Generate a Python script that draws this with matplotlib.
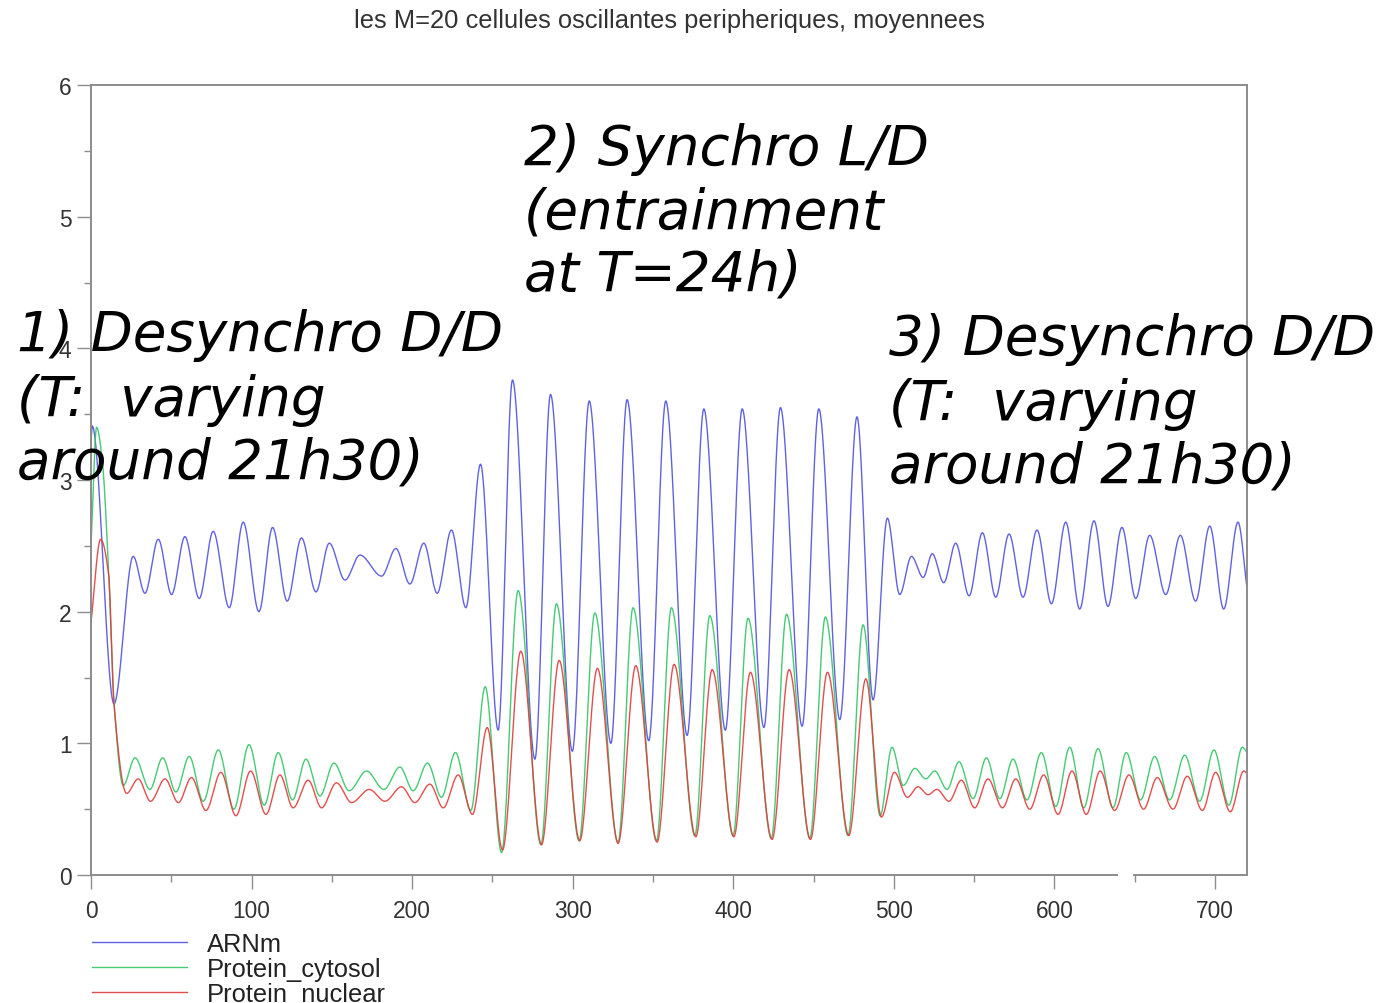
import numpy as np
import matplotlib
matplotlib.use("Agg")
import matplotlib.pyplot as plt
from matplotlib.ticker import MultipleLocator

plt.rcParams["font.family"] = ["Liberation Sans", "DejaVu Sans"]

# Turning points (time in h, mean level) of the averaged peripheral oscillators
arnm_t = [0, 0.8, 14.3, 26.3, 33.6, 41.9, 50.2, 58.5, 67.4, 76.1, 86.1, 94.8, 104.6,
          113.1, 122.2, 131.1, 140.1, 148.4, 158.2, 167.5, 181.0, 189.9, 198.6, 207.3,
          215.6, 224.5, 233.5, 242.6, 253.6, 262.5, 276.5, 286.2, 299.8, 310.3, 323.8,
          333.9, 347.4, 358.0, 371.3, 381.7, 395.1, 405.6, 419.1, 429.4, 442.9, 453.3,
          466.4, 477.1, 487.1, 496.0, 503.7, 511.0, 518.3, 524.0, 531.1, 538.6, 546.9,
          555.2, 563.5, 571.8, 580.5, 589.2, 598.2, 607.1, 615.8, 624.7, 633.4, 642.1,
          650.7, 659.4, 669.4, 678.5, 688.0, 696.8, 705.5, 714.4, 720]
arnm_v = [3.30, 3.41, 1.30, 2.42, 2.14, 2.55, 2.13, 2.57, 2.10, 2.61, 2.03, 2.68, 2.00,
          2.64, 2.08, 2.56, 2.15, 2.52, 2.24, 2.43, 2.27, 2.48, 2.21, 2.52,
          2.14, 2.62, 2.03, 3.12, 1.10, 3.76, 0.88, 3.65, 0.94, 3.60, 1.00,
          3.61, 1.02, 3.60, 1.06, 3.54, 1.10, 3.54, 1.12, 3.55, 1.13, 3.54,
          1.18, 3.48, 1.33, 2.71, 2.13, 2.42, 2.26, 2.44, 2.22, 2.52, 2.12,
          2.60, 2.11, 2.59, 2.11, 2.62, 2.06, 2.68, 2.02, 2.69, 2.04, 2.64,
          2.10, 2.58, 2.13, 2.58, 2.08, 2.65, 2.02, 2.68, 2.18]

cyto_t = [0, 3.5, 7.0, 11.0, 14.3, 20.1, 27.4, 36.7, 44.6, 52.9, 61.2, 69.9, 79.3,
          89.0, 98.4, 107.9, 116.6, 125.5, 133.9, 142.6, 151.3, 160.8, 171.6, 182.4,
          192.4, 200.7, 209.6, 218.3, 227.0, 236.6, 245.5, 255.7, 266.0, 280.2, 289.9,
          304.0, 313.8, 328.3, 337.6, 352.2, 361.5, 376.1, 385.4, 399.9, 409.2, 423.7,
          433.2, 447.7, 457.4, 471.5, 480.9, 491.5, 498.9, 505.9, 513.1, 519.9, 525.5,
          533.2, 540.6, 549.4, 557.7, 566.0, 574.3, 583.0, 591.9, 600.9, 609.6, 618.3,
          627.2, 636.5, 644.8, 653.7, 662.5, 671.8, 681.2, 690.5, 699.4, 708.7, 717.1, 720]
cyto_v = [2.50, 3.40, 3.15, 2.30, 1.32, 0.68, 0.89, 0.65, 0.89, 0.63, 0.90, 0.56, 0.95,
          0.50, 0.99, 0.53, 0.93, 0.57, 0.88, 0.60, 0.85, 0.64, 0.79, 0.65,
          0.82, 0.64, 0.85, 0.59, 0.93, 0.49, 1.43, 0.17, 2.16, 0.23, 2.06,
          0.26, 1.99, 0.25, 2.03, 0.26, 2.03, 0.30, 1.97, 0.30, 1.95, 0.28,
          1.98, 0.28, 1.96, 0.30, 1.90, 0.45, 0.97, 0.68, 0.81, 0.73, 0.79,
          0.65, 0.86, 0.58, 0.89, 0.58, 0.88, 0.57, 0.93, 0.52, 0.97, 0.51,
          0.96, 0.51, 0.93, 0.57, 0.90, 0.57, 0.91, 0.56, 0.95, 0.53, 0.97, 0.93]

nucl_t = [0, 6.0, 11.0, 14.3, 22.2, 29.4, 37.1, 46.1, 54.4, 62.6, 71.6, 80.9, 90.3,
          99.4, 109.0, 117.7, 125.9, 135.3, 143.6, 152.9, 162.3, 173.3, 183.1, 193.4,
          201.7, 211.1, 219.4, 228.7, 237.6, 246.8, 256.3, 267.7, 280.6, 291.6, 304.4,
          315.4, 328.3, 339.3, 352.6, 363.2, 376.7, 386.9, 400.4, 410.7, 424.2, 434.8,
          448.1, 458.7, 472.0, 482.6, 492.3, 500.4, 508.5, 515.1, 521.3, 526.9, 534.4,
          542.1, 550.4, 558.7, 567.7, 576.0, 584.7, 593.4, 602.3, 611.0, 619.9, 628.6,
          637.5, 646.5, 655.6, 664.1, 673.9, 682.8, 692.2, 700.5, 709.6, 718.0, 720]
nucl_v = [1.92, 2.55, 2.28, 1.30, 0.62, 0.73, 0.56, 0.73, 0.55, 0.74, 0.49, 0.78, 0.45,
          0.79, 0.46, 0.76, 0.51, 0.72, 0.51, 0.70, 0.55, 0.65, 0.56, 0.67,
          0.55, 0.69, 0.51, 0.76, 0.46, 1.12, 0.19, 1.70, 0.23, 1.63, 0.26,
          1.57, 0.24, 1.59, 0.25, 1.60, 0.29, 1.56, 0.29, 1.54, 0.27, 1.56,
          0.27, 1.54, 0.30, 1.49, 0.44, 0.78, 0.59, 0.67, 0.61, 0.65, 0.56,
          0.72, 0.51, 0.73, 0.51, 0.73, 0.50, 0.76, 0.46, 0.79, 0.46, 0.79,
          0.49, 0.76, 0.50, 0.74, 0.50, 0.75, 0.49, 0.78, 0.48, 0.79, 0.77]

series_names = ["ARNm", "Protein_cytosol", "Protein_nuclear"]
series_colors = ["#5050e0", "#33c466", "#e23b3b"]

title = "les M=20 cellules oscillantes peripheriques, moyennees"
notes = [
    ("1) Desynchro D/D", "(T:  varying", "around 21h30)"),
    ("2) Synchro L/D", "(entrainment", "at T=24h)"),
    ("3) Desynchro D/D", "(T:  varying", "around 21h30)"),
]


def pchip(x, y, xs):
    """Monotone piecewise-cubic Hermite curve through the turning points."""
    x = np.asarray(x, float)
    y = np.asarray(y, float)
    h = np.diff(x)
    d = np.diff(y) / h
    m = np.zeros_like(y)
    for k in range(1, len(x) - 1):
        if d[k - 1] * d[k] > 0:
            w1 = 2 * h[k] + h[k - 1]
            w2 = h[k] + 2 * h[k - 1]
            m[k] = (w1 + w2) / (w1 / d[k - 1] + w2 / d[k])
    m[0] = d[0]
    m[-1] = d[-1]
    i = np.clip(np.searchsorted(x, xs) - 1, 0, len(h) - 1)
    s = (xs - x[i]) / h[i]
    h00 = 2 * s**3 - 3 * s**2 + 1
    h10 = s**3 - 2 * s**2 + s
    h01 = -2 * s**3 + 3 * s**2
    h11 = s**3 - s**2
    return h00 * y[i] + h10 * h[i] * m[i] + h01 * y[i + 1] + h11 * h[i] * m[i + 1]


W, H = 1380, 1004
fig = plt.figure(figsize=(W / 100, H / 100), dpi=100)
ax = fig.add_axes([91 / W, 1 - 876 / H, (1247 - 91) / W, (876 - 86) / H])

t = np.linspace(0, 720, 5000)
lines = []
for (ts, vs), name, col in zip([(arnm_t, arnm_v), (cyto_t, cyto_v), (nucl_t, nucl_v)],
                               series_names, series_colors):
    ln, = ax.plot(t, pchip(ts, vs, t), color=col, lw=1.0, alpha=0.9, label=name)
    lines.append(ln)

ax.set_xlim(0, 720)
ax.set_ylim(0, 6)
ax.xaxis.set_major_locator(MultipleLocator(100))
ax.xaxis.set_minor_locator(MultipleLocator(50))
ax.yaxis.set_major_locator(MultipleLocator(1))
ax.yaxis.set_minor_locator(MultipleLocator(0.5))

spine_col = "#8c8c8c"
for side in ("left", "top", "right"):
    ax.spines[side].set_color(spine_col)
    ax.spines[side].set_linewidth(1.4)
ax.spines["bottom"].set_visible(False)
# bottom axis line, drawn in two pieces with a small break
for a, b in [(0, 639.5), (649, 720)]:
    ax.plot([a, b], [0, 0], color=spine_col, lw=1.4, transform=ax.get_xaxis_transform(),
            clip_on=False, solid_capstyle="butt")

ax.tick_params(which="major", direction="out", length=10, width=1.0, color=spine_col,
               labelsize=16.4, labelcolor="#333333")
ax.tick_params(which="minor", direction="out", length=5, width=1.0, color=spine_col)
ax.tick_params(axis="x", which="major", pad=7)
ax.tick_params(axis="y", which="major", pad=4)

fig.text(669.5 / W, 1 - 21 / H, title, ha="center", va="center", fontsize=18.4,
         color="#333333")

leg = ax.legend(handles=lines, loc="upper left", bbox_to_anchor=(92 / W, 1 - 933 / H),
                bbox_transform=fig.transFigure, frameon=False, fontsize=18.4,
                handlelength=3.7, handletextpad=0.8, labelspacing=0.04,
                borderpad=0, borderaxespad=0)
for txt in leg.get_texts():
    txt.set_color("#222222")

note_pos = [(17, [351, 416, 479]), (524, [165, 228, 291]), (889, [355, 420, 483])]
for (x0, ys), lines_txt in zip(note_pos, notes):
    for yb, s in zip(ys, lines_txt):
        fig.text(x0 / W, 1 - yb / H, s, ha="left", va="baseline", fontsize=39.4,
                 family="DejaVu Sans", style="italic", color="black")

fig.savefig("out.png", dpi=100)
